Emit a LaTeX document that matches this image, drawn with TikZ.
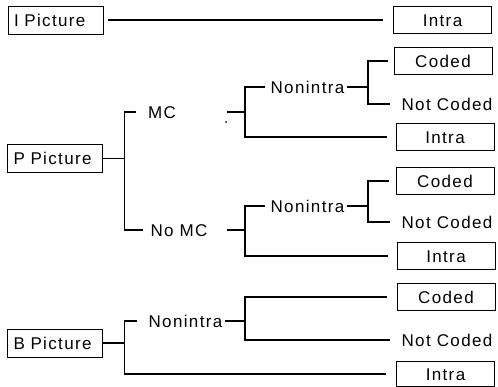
\documentclass[tikz,border=0pt]{standalone}
\usepackage{fontspec}
\setmainfont{Liberation Sans}[LetterSpace=8.0]
\begin{document}
\begin{tikzpicture}[x=1pt,y=-1pt,
  every node/.style={font=\fontsize{17}{20}\selectfont, text height=12.4pt, text depth=0pt},
  lbox/.style={draw, line width=0.8pt, text width=83pt, align=left, inner xsep=6pt, minimum height=28pt},
  rbox/.style={draw, line width=0.8pt, minimum width=98pt, minimum height=27pt, inner sep=0pt},
  txt/.style={inner xsep=2pt, inner ysep=0pt},
  conn/.style={line width=1.4pt}]
\useasboundingbox (0,0) rectangle (498,387);

% picture types
\node[lbox] (ipic) at (55.5,20) {I Picture};
\node[lbox] (ppic) at (55,158.5) {P Picture};
\node[lbox] (bpic) at (55,343) {B Picture};

% intermediate decisions
\node[txt] (mc) at (162,112) {MC};
\node[txt] (nomc) at (179,230) {No MC};
\node[txt] (nonintra1) at (307.5,87) {Nonintra};
\node[txt] (nonintra2) at (307.5,206) {Nonintra};
\node[txt] (nonintraB) at (185.5,321) {Nonintra};

% macroblock types
\node[rbox] (intra1) at (442.5,20) {Intra};
\node[rbox] (coded1) at (443,61) {Coded};
\node[txt] (notcoded1) at (447,104) {Not Coded};
\node[rbox] (intra2) at (445,137) {Intra};
\node[rbox] (coded2) at (445,181) {Coded};
\node[txt] (notcoded2) at (447,222) {Not Coded};
\node[rbox] (intra3) at (446,256) {Intra};
\node[rbox] (coded3) at (446,297) {Coded};
\node[txt] (notcodedB) at (447,340) {Not Coded};
\node[rbox, minimum height=25pt] (intra4) at (445.5,374) {Intra};

% junction points
\coordinate (pj) at (124.5,158.5);
\coordinate (bj) at (124.5,343);
\coordinate (mcout) at (227,112);
\coordinate (mj) at (245,112);
\coordinate (nomcout) at (227,230);
\coordinate (nmj) at (245,230);
\coordinate (nbj) at (245,321);
\coordinate (b1) at (368,87);
\coordinate (b2) at (368,206);

% I picture
\draw[conn, shorten <=5pt, shorten >=10pt] (ipic.east) -- (intra1.west);

% P picture
\draw[conn] (ppic.east) -- (pj);
\draw[conn, shorten <=10pt, shorten >=5pt] (mc.west) -| (pj) |- (nomc.west);
\draw[conn] (mcout) -- (mj);
\draw[conn, shorten <=3pt, shorten >=9pt] (nonintra1.west) -| (mj) |- (intra2.west);
\draw[conn] (nonintra1.east) -- (b1);
\draw[conn, shorten <=6pt, shorten >=9pt] (coded1.west) -| (b1) |- (notcoded1.west);
\draw[conn] (nomcout) -- (nmj);
\draw[conn, shorten <=3pt, shorten >=9pt] (nonintra2.west) -| (nmj) |- (intra3.west);
\draw[conn] (nonintra2.east) -- (b2);
\draw[conn, shorten <=7pt, shorten >=9pt] (coded2.west) -| (b2) |- (notcoded2.west);
\fill (226,122) circle (1pt);

% B picture
\draw[conn] (bpic.east) -- (bj);
\draw[conn, shorten <=9pt, shorten >=10pt] (nonintraB.west) -| (bj) |- (intra4.west);
\draw[conn] (nonintraB.east) -- (nbj);
\draw[conn, shorten <=10pt, shorten >=9pt] (coded3.west) -| (nbj) |- (notcodedB.west);
\end{tikzpicture}
\end{document}
